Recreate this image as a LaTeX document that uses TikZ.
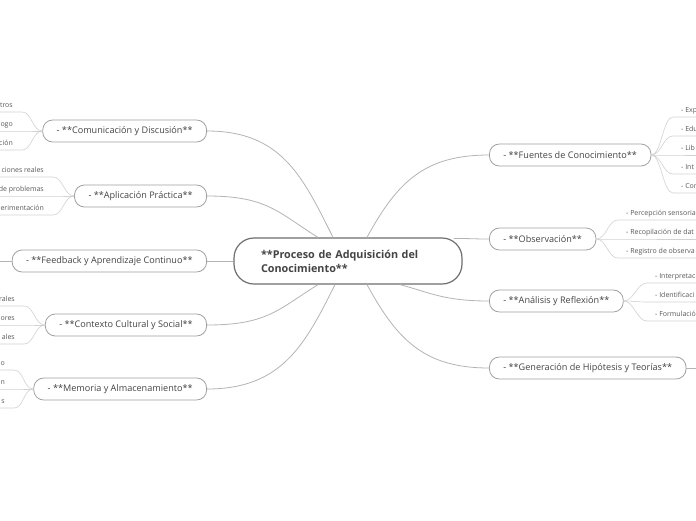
\documentclass[tikz,border=0pt]{standalone}
\usepackage{fontspec}
\setmainfont{Open Sans}
\usetikzlibrary{positioning, calc}
\definecolor{txt}{HTML}{444444}
\definecolor{ltxt}{HTML}{5A5A5A}
\definecolor{brd}{HTML}{A0A0A0}
\definecolor{cbrd}{HTML}{6E6E6E}
\definecolor{lin}{HTML}{B4B4B4}
\definecolor{tlin}{HTML}{D2D2D2}
\tikzstyle{central} = [draw=cbrd, line width=1.2pt, rounded corners=20pt, minimum height=46pt, inner xsep=27pt, text width=174pt, align=left, text=txt, font=\bfseries\fontsize{10.8}{14}\selectfont]
\tikzstyle{topic} = [draw=brd, line width=0.8pt, rounded corners=10pt, minimum height=22pt, inner xsep=14pt, inner ysep=0pt, text=txt, font=\fontsize{9.1}{10}\selectfont]
\tikzstyle{leafL} = [anchor=south east, inner xsep=0pt, inner ysep=3pt, text height=5pt, text depth=1.4pt, text=ltxt, font=\fontsize{7}{8}\selectfont]
\tikzstyle{leafR} = [anchor=south west, inner xsep=0pt, inner ysep=3pt, text height=5pt, text depth=1.4pt, text=ltxt, font=\fontsize{7}{8}\selectfont]
\tikzstyle{branch} = [draw=lin, line width=0.8pt]
\tikzstyle{twig} = [draw=tlin, line width=0.6pt]

\begin{document}
\begin{tikzpicture}[x=1pt, y=-1pt]
		\useasboundingbox (0,0) rectangle (696,520);
		\fill[white] (0,0) rectangle (696,520);

		\coordinate (lft)     at (0,   0);
		\coordinate (rgt)     at (696, 0);
		\coordinate (center)  at (348, 261);
		\coordinate (comunic) at (207, 131);
		\coordinate (aplicac) at (207, 196);
		\coordinate (feedbck) at (207, 261);
		\coordinate (context) at (207, 325);
		\coordinate (memoria) at (207, 389);
		\coordinate (fuentes) at (489, 155);
		\coordinate (observa) at (489, 239);
		\coordinate (analisi) at (489, 301);
		\coordinate (generac) at (489, 368);

		\node[central, anchor=center] (CEN) at (center) {**Proceso de Adquisición del\\Conocimiento**};

		\node[topic, anchor=east] (COM) at (comunic) {- **Comunicación y Discusión**};
		\node[topic, anchor=east] (APL) at (aplicac) {- **Aplicación Práctica**};
		\node[topic, anchor=east] (FEE) at (feedbck) {- **Feedback y Aprendizaje Continuo**};
		\node[topic, anchor=east] (CON) at (context) {- **Contexto Cultural y Social**};
		\node[topic, anchor=east] (MEM) at (memoria) {- **Memoria y Almacenamiento**};
		\node[topic, anchor=west] (FUE) at (fuentes) {- **Fuentes de Conocimiento**};
		\node[topic, anchor=west] (OBS) at (observa) {- **Observación**};
		\node[topic, anchor=west] (ANA) at (analisi) {- **Análisis y Reflexión**};
		\node[topic, anchor=west] (GEN) at (generac) {- **Generación de Hipótesis y Teorías**};

		% leaves on the left
		\node[leafL] (C1) at (13, 112) {tros};
		\node[leafL] (C2) at (13, 131) {ogo};
		\node[leafL] (C3) at (13, 150) {ción};
		\node[leafL] (A1) at (44, 177) {ciones reales};
		\node[leafL] (A2) at (44, 196) {de problemas};
		\node[leafL] (A3) at (44, 215) {erimentación};
		\node[leafL] (K1) at (15, 306) {rales};
		\node[leafL] (K2) at (15, 325) {ores};
		\node[leafL] (K3) at (15, 344) {ales};
		\node[leafL] (M1) at (5,  370) {o};
		\node[leafL] (M2) at (5,  389) {n};
		\node[leafL] (M3) at (5,  408) {s};

		% leaves on the right
		\node[leafR] (F1) at (681, 117) {- Exp};
		\node[leafR] (F2) at (681, 136) {- Edu};
		\node[leafR] (F3) at (681, 155) {- Lib};
		\node[leafR] (F4) at (681, 174) {- Int};
		\node[leafR] (F5) at (681, 193) {- Con};
		\node[leafR] (O1) at (626, 220) {- Percepción sensoria};
		\node[leafR] (O2) at (626, 239) {- Recopilación de dat};
		\node[leafR] (O3) at (626, 258) {- Registro de observa};
		\node[leafR] (N1) at (655, 283) {- Interpretac};
		\node[leafR] (N2) at (655, 302) {- Identificaci};
		\node[leafR] (N3) at (655, 321) {- Formulació};

		\draw[branch] (COM.east) .. controls +(75,0) and +(-30,-60) .. ($(CEN.north)+(-15,0)$);
		\draw[branch] (APL.east) .. controls +(60,0) and +(-40,-25) .. ($(CEN.north)+(-30,0)$);
		\draw[branch] (FEE.east) -- (CEN.west);
		\draw[branch] (CON.east) .. controls +(60,0) and +(-40,25) .. ($(CEN.south)+(-30,0)$);
		\draw[branch] (MEM.east) .. controls +(75,0) and +(-30,60) .. ($(CEN.south)+(-13,0)$);
		\draw[branch] (FUE.west) .. controls +(-65,0) and +(30,-55) .. ($(CEN.north)+(19,0)$);
		\draw[branch] (OBS.west) .. controls +(-15,0) and +(15,0) .. ($(CEN.north east)+(-9,1)$);
		\draw[branch] (ANA.west) .. controls +(-45,0) and +(30,8) .. ($(CEN.south)+(52,0)$);
		\draw[branch] (GEN.west) .. controls +(-65,0) and +(30,55) .. ($(CEN.south)+(19,0)$);
		\draw[branch] (FEE.west) -- (FEE.west -| lft);
		\draw[branch] (GEN.east) -- (GEN.east -| rgt);

		\draw[twig] (C1.south east -| lft) -- ($(C1.south east)+(9,0)$) .. controls +(10,0) and +(-10,0) .. (COM.west);
		\draw[twig] (C2.south east -| lft) -- ($(C2.south east)+(9,0)$) .. controls +(10,0) and +(-10,0) .. (COM.west);
		\draw[twig] (C3.south east -| lft) -- ($(C3.south east)+(9,0)$) .. controls +(10,0) and +(-10,0) .. (COM.west);
		\draw[twig] (A1.south east -| lft) -- ($(A1.south east)+(9,0)$) .. controls +(10,0) and +(-10,0) .. (APL.west);
		\draw[twig] (A2.south east -| lft) -- ($(A2.south east)+(9,0)$) .. controls +(10,0) and +(-10,0) .. (APL.west);
		\draw[twig] (A3.south east -| lft) -- ($(A3.south east)+(9,0)$) .. controls +(10,0) and +(-10,0) .. (APL.west);
		\draw[twig] (K1.south east -| lft) -- ($(K1.south east)+(9,0)$) .. controls +(10,0) and +(-10,0) .. (CON.west);
		\draw[twig] (K2.south east -| lft) -- ($(K2.south east)+(9,0)$) .. controls +(10,0) and +(-10,0) .. (CON.west);
		\draw[twig] (K3.south east -| lft) -- ($(K3.south east)+(9,0)$) .. controls +(10,0) and +(-10,0) .. (CON.west);
		\draw[twig] (M1.south east -| lft) -- ($(M1.south east)+(9,0)$) .. controls +(10,0) and +(-10,0) .. (MEM.west);
		\draw[twig] (M2.south east -| lft) -- ($(M2.south east)+(9,0)$) .. controls +(10,0) and +(-10,0) .. (MEM.west);
		\draw[twig] (M3.south east -| lft) -- ($(M3.south east)+(9,0)$) .. controls +(10,0) and +(-10,0) .. (MEM.west);

		\draw[twig] (FUE.east) .. controls +(10,0) and +(-10,0) .. ($(F1.south west)+(-8,0)$) -- (F1.south west -| rgt);
		\draw[twig] (FUE.east) .. controls +(10,0) and +(-10,0) .. ($(F2.south west)+(-8,0)$) -- (F2.south west -| rgt);
		\draw[twig] (FUE.east) .. controls +(10,0) and +(-10,0) .. ($(F3.south west)+(-8,0)$) -- (F3.south west -| rgt);
		\draw[twig] (FUE.east) .. controls +(10,0) and +(-10,0) .. ($(F4.south west)+(-8,0)$) -- (F4.south west -| rgt);
		\draw[twig] (FUE.east) .. controls +(10,0) and +(-10,0) .. ($(F5.south west)+(-8,0)$) -- (F5.south west -| rgt);
		\draw[twig] (OBS.east) .. controls +(10,0) and +(-10,0) .. ($(O1.south west)+(-8,0)$) -- (O1.south west -| rgt);
		\draw[twig] (OBS.east) .. controls +(10,0) and +(-10,0) .. ($(O2.south west)+(-8,0)$) -- (O2.south west -| rgt);
		\draw[twig] (OBS.east) .. controls +(10,0) and +(-10,0) .. ($(O3.south west)+(-8,0)$) -- (O3.south west -| rgt);
		\draw[twig] (ANA.east) .. controls +(10,0) and +(-10,0) .. ($(N1.south west)+(-8,0)$) -- (N1.south west -| rgt);
		\draw[twig] (ANA.east) .. controls +(10,0) and +(-10,0) .. ($(N2.south west)+(-8,0)$) -- (N2.south west -| rgt);
		\draw[twig] (ANA.east) .. controls +(10,0) and +(-10,0) .. ($(N3.south west)+(-8,0)$) -- (N3.south west -| rgt);

	\end{tikzpicture}
\end{document}
